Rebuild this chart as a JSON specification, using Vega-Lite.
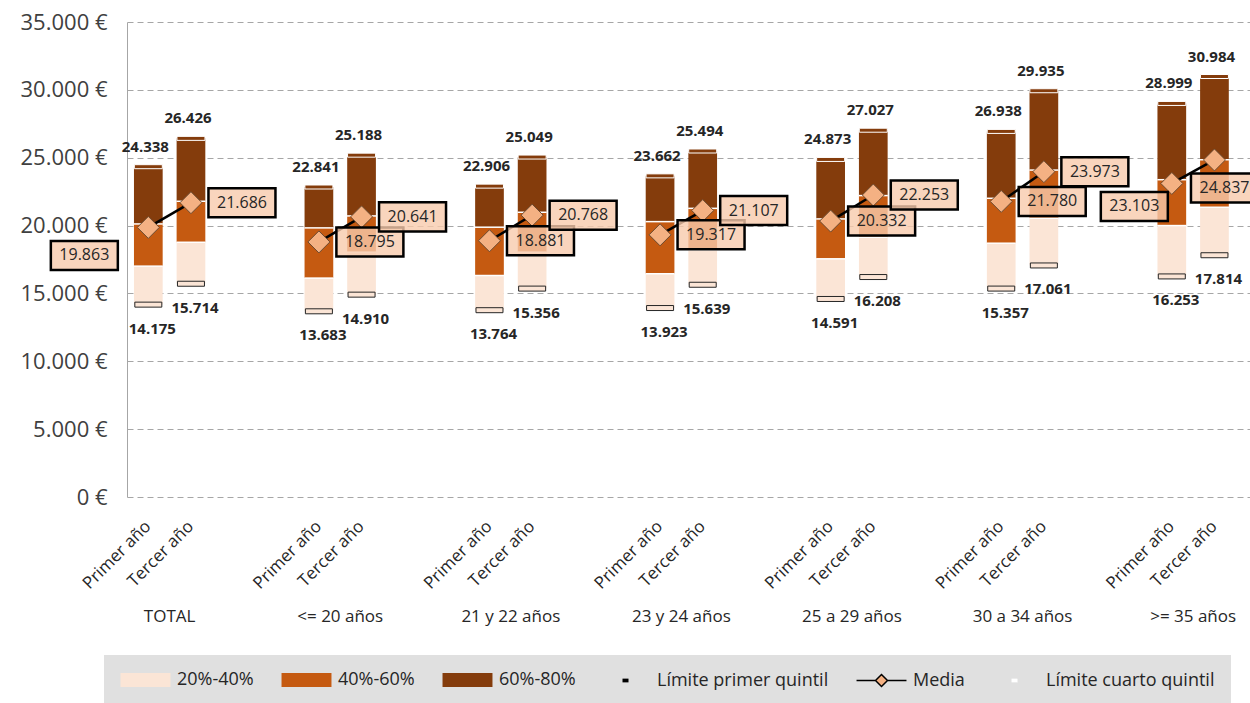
{
  "$schema": "https://vega.github.io/schema/vega-lite/v6.json",
  "width": 1123,
  "height": 475,
  "autosize": {"type": "none"},
  "padding": {"left": 127, "top": 22, "right": 0, "bottom": 206},
  "config": {
    "locale": {"number": {"decimal": ",", "thousands": ".", "grouping": [3], "currency": ["", " €"]}},
    "view": {"stroke": null},
    "font": "Open Sans"
  },
  "data": {"values": [
    {"grupo": "TOTAL", "anio": "Primer año", "q1": 14175, "p40": 17010, "p60": 20120, "q4": 24338, "media": 19863},
    {"grupo": "TOTAL", "anio": "Tercer año", "q1": 15714, "p40": 18770, "p60": 21790, "q4": 26426, "media": 21686},
    {"grupo": "<= 20 años", "anio": "Primer año", "q1": 13683, "p40": 16130, "p60": 19830, "q4": 22841, "media": 18795},
    {"grupo": "<= 20 años", "anio": "Tercer año", "q1": 14910, "p40": 18040, "p60": 20710, "q4": 25188, "media": 20641},
    {"grupo": "21 y 22 años", "anio": "Primer año", "q1": 13764, "p40": 16320, "p60": 19880, "q4": 22906, "media": 18881},
    {"grupo": "21 y 22 años", "anio": "Tercer año", "q1": 15356, "p40": 18040, "p60": 20980, "q4": 25049, "media": 20768},
    {"grupo": "23 y 24 años", "anio": "Primer año", "q1": 13923, "p40": 16450, "p60": 20290, "q4": 23662, "media": 19317},
    {"grupo": "23 y 24 años", "anio": "Tercer año", "q1": 15639, "p40": 18210, "p60": 21270, "q4": 25494, "media": 21107},
    {"grupo": "25 a 29 años", "anio": "Primer año", "q1": 14591, "p40": 17550, "p60": 20490, "q4": 24873, "media": 20332},
    {"grupo": "25 a 29 años", "anio": "Tercer año", "q1": 16208, "p40": 19140, "p60": 22210, "q4": 27027, "media": 22253},
    {"grupo": "30 a 34 años", "anio": "Primer año", "q1": 15357, "p40": 18700, "p60": 22010, "q4": 26938, "media": 21780},
    {"grupo": "30 a 34 años", "anio": "Tercer año", "q1": 17061, "p40": 20540, "p60": 24090, "q4": 29935, "media": 23973},
    {"grupo": ">= 35 años", "anio": "Primer año", "q1": 16253, "p40": 20000, "p60": 23380, "q4": 28999, "media": 23103},
    {"grupo": ">= 35 años", "anio": "Tercer año", "q1": 17814, "p40": 21350, "p60": 24850, "q4": 30984, "media": 24837}
  ]},
  "encoding": {
    "x": {
      "field": "grupo", "type": "nominal",
      "sort": ["TOTAL", "<= 20 años", "21 y 22 años", "23 y 24 años", "25 a 29 años", "30 a 34 años", ">= 35 años"],
      "scale": {"paddingInner": 0.5, "paddingOuter": 0.0417, "align": 0},
      "axis": {"title": null, "domain": false, "ticks": false, "grid": false, "labelAngle": 0, "labelPadding": 111, "labelFontSize": 17, "labelColor": "#262626", "labelFont": "Open Sans"}
    },
    "xOffset": {
      "field": "anio", "type": "nominal", "sort": ["Primer año", "Tercer año"],
      "scale": {"paddingInner": 0.327, "paddingOuter": 0.1635}
    }
  },
  "layer": [
    {
      "mark": {"type": "bar"},
      "encoding": {
        "y": {"field": "q1", "type": "quantitative", "scale": {"domain": [0, 35000]},
          "axis": {"title": null, "values": [0, 5000, 10000, 15000, 20000, 25000, 30000, 35000], "format": ",.0f", "labelExpr": "datum.label + ' €'", "labelFontSize": 22, "labelColor": "#404040", "labelPadding": 20, "ticks": false, "domainColor": "#a6a6a6", "gridColor": "#a6a6a6", "gridDash": [6, 4], "labelFont": "Open Sans"}},
        "y2": {"field": "p40"},
        "color": {"datum": "20%-40%", "type": "nominal",
          "scale": {"domain": ["20%-40%", "40%-60%", "60%-80%", "Límite primer quintil", "Media", "Límite cuarto quintil"],
                    "range": ["#fbe5d6", "#c55a11", "#843c0c", "#000000", "#f4b183", "#ffffff"]},
          "legend": {"orient": "none", "legendX": -23, "legendY": 633, "direction": "horizontal", "title": null,
            "fillColor": "#e0e0e0", "padding": 16, "symbolSize": 225, "labelFontSize": 18, "labelColor": "#262626",
            "labelOffset": 39, "columnPadding": 24, "labelLimit": 300, "labelFont": "Open Sans",
            "symbolType": {"expr": "indexof(['20%-40%','40%-60%','60%-80%'], datum.value) >= 0 ? 'M-1.13,-0.93H5.53V0.93H-1.13Z' : (datum.value === 'Media' ? 'M-1.13,0H1.4L2.2,-0.8L3,0L2.2,0.8L1.4,0M3,0H5.53' : 'M1.8,-0.25H2.6V0.25H1.8Z')"},
            "symbolStrokeColor": {"expr": "datum.value === 'Media' ? 'black' : 'transparent'"},
            "symbolStrokeWidth": 1.5,
            "symbolOpacity": 1
          }
        }
      }
    },
    {
      "mark": {"type": "bar"},
      "encoding": {"y": {"field": "p40", "type": "quantitative"}, "y2": {"field": "p60"}, "color": {"datum": "40%-60%", "type": "nominal"}}
    },
    {
      "mark": {"type": "bar"},
      "encoding": {"y": {"field": "p60", "type": "quantitative"}, "y2": {"field": "q4"}, "color": {"datum": "60%-80%", "type": "nominal"}}
    },
    {
      "mark": {"type": "tick", "orient": "horizontal", "size": 29, "thickness": 1.5, "color": "white", "opacity": 1},
      "encoding": {"y": {"field": "p40", "type": "quantitative"}}
    },
    {
      "mark": {"type": "tick", "orient": "horizontal", "size": 29, "thickness": 1.5, "color": "white", "opacity": 1},
      "encoding": {"y": {"field": "p60", "type": "quantitative"}}
    },
    {
      "mark": {"type": "tick", "orient": "horizontal", "size": 28, "thickness": 4, "fill": "#843c0c", "stroke": "white", "strokeWidth": 1, "opacity": 1},
      "encoding": {"y": {"field": "q4", "type": "quantitative"}}
    },
    {
      "mark": {"type": "tick", "orient": "horizontal", "size": 27, "thickness": 5, "fill": "#fbe5d6", "stroke": "#262626", "strokeWidth": 1, "opacity": 1},
      "encoding": {"y": {"field": "q1", "type": "quantitative"}}
    },
    {
      "mark": {"type": "line", "color": "black", "strokeWidth": 2.5},
      "encoding": {"y": {"field": "media", "type": "quantitative"}, "detail": {"field": "grupo"}}
    },
    {
      "mark": {"type": "point", "shape": "diamond", "filled": true, "fill": "#f4b183", "stroke": "#6b4a30", "strokeWidth": 1, "size": 484, "opacity": 1},
      "encoding": {"y": {"field": "media", "type": "quantitative"}}
    },
    {
      "transform": [{"filter": "!((datum.grupo === 'TOTAL' && datum.anio === 'Primer año') || datum.grupo === '>= 35 años')"}],
      "layer": [
        {"mark": {"type": "point", "shape": "M0.522,-0.433H2.522V0.433H0.522Z", "size": 4489, "filled": true, "fill": "#f8cbad", "fillOpacity": 0.8, "stroke": "black", "strokeWidth": 2.5, "opacity": 1},
         "encoding": {"y": {"field": "media", "type": "quantitative"}}},
        {"mark": {"type": "text", "dx": 51, "fontSize": 16, "color": "#262626"},
         "encoding": {"y": {"field": "media", "type": "quantitative"}, "text": {"field": "media", "type": "quantitative", "format": ",.0f"}}}
      ]
    },
    {
      "transform": [{"filter": "datum.grupo === 'TOTAL' && datum.anio === 'Primer año'"}],
      "layer": [
        {"mark": {"type": "point", "shape": "M-2.910,0.403H-0.910V1.269H-2.910Z", "size": 4489, "filled": true, "fill": "#f8cbad", "fillOpacity": 0.8, "stroke": "black", "strokeWidth": 2.5, "opacity": 1},
         "encoding": {"y": {"field": "media", "type": "quantitative"}}},
        {"mark": {"type": "text", "dx": -64, "dy": 28, "fontSize": 16, "color": "#262626"},
         "encoding": {"y": {"field": "media", "type": "quantitative"}, "text": {"field": "media", "type": "quantitative", "format": ",.0f"}}}
      ]
    },
    {
      "transform": [{"filter": "datum.grupo === '>= 35 años' && datum.anio === 'Primer año'"}],
      "layer": [
        {"mark": {"type": "point", "shape": "M-2.119,0.254H-0.119V1.119H-2.119Z", "size": 4489, "filled": true, "fill": "#f8cbad", "fillOpacity": 0.8, "stroke": "black", "strokeWidth": 2.5, "opacity": 1},
         "encoding": {"y": {"field": "media", "type": "quantitative"}}},
        {"mark": {"type": "text", "dx": -37.5, "dy": 23, "fontSize": 16, "color": "#262626"},
         "encoding": {"y": {"field": "media", "type": "quantitative"}, "text": {"field": "media", "type": "quantitative", "format": ",.0f"}}}
      ]
    },
    {
      "transform": [{"filter": "datum.grupo === '>= 35 años' && datum.anio === 'Tercer año'"}],
      "layer": [
        {"mark": {"type": "point", "shape": "M-0.701,0.403H1.299V1.269H-0.701Z", "size": 4489, "filled": true, "fill": "#f8cbad", "fillOpacity": 0.8, "stroke": "black", "strokeWidth": 2.5, "opacity": 1},
         "encoding": {"y": {"field": "media", "type": "quantitative"}}},
        {"mark": {"type": "text", "dx": 10, "dy": 28, "fontSize": 16, "color": "#262626"},
         "encoding": {"y": {"field": "media", "type": "quantitative"}, "text": {"field": "media", "type": "quantitative", "format": ",.0f"}}}
      ]
    },
    {
      "mark": {"type": "text", "dy": -20, "dx": -3, "fontWeight": "bold", "fontSize": 15, "color": "#262626"},
      "encoding": {"y": {"field": "q4", "type": "quantitative"}, "text": {"field": "q4", "type": "quantitative", "format": ",.0f"}}
    },
    {
      "mark": {"type": "text", "dy": 24, "dx": 4, "fontWeight": "bold", "fontSize": 15, "color": "#262626"},
      "encoding": {"y": {"field": "q1", "type": "quantitative"}, "text": {"field": "q1", "type": "quantitative", "format": ",.0f"}}
    },
    {
      "mark": {"type": "text", "angle": -45, "align": "right", "baseline": "middle", "yOffset": 27, "fontSize": 17, "color": "#262626"},
      "encoding": {"y": {"datum": 0, "type": "quantitative"}, "text": {"field": "anio"}}
    }
  ]
}
